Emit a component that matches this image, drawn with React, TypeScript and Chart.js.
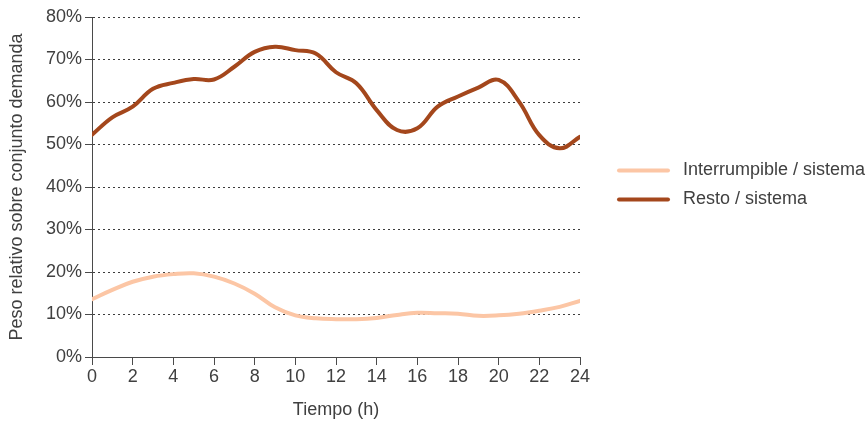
import React, { useEffect, useRef } from "react";
import { Chart, registerables } from "chart.js";

Chart.register(...registerables);

// Hours of the day (x axis)
const hours = [0, 1, 2, 3, 4, 5, 6, 7, 8, 9, 10, 11, 12, 13, 14, 15, 16, 17, 18, 19, 20, 21, 22, 23, 24];

// Relative weight (%) of each demand group over the combined demand
const interrumpible = [13.6, 15.8, 17.7, 18.9, 19.5, 19.7, 18.9, 17.3, 14.9, 11.7, 9.8, 9.1, 8.9, 8.9, 9.2, 9.9, 10.4, 10.3, 10.2, 9.7, 9.8, 10.2, 10.9, 11.8, 13.2];
const resto = [52.3, 56.4, 58.9, 63.1, 64.5, 65.4, 65.3, 68.3, 71.8, 73.0, 72.2, 71.4, 67.0, 64.4, 58.1, 53.4, 53.8, 58.9, 61.3, 63.4, 65.2, 60.1, 52.2, 49.1, 51.8];

const seriesLabels = ["Interrumpible / sistema", "Resto / sistema"];
const seriesColors = ["#FCC6A5", "#A4471C"];

const yTitle = "Peso relativo sobre conjunto demanda";
const xTitle = "Tiempo (h)";

const FONT = "'Liberation Sans', Arial, sans-serif";
const FONT_SIZE = 18;
const TEXT = "#404040";
const AXIS = "#4a4a4a";

// Legend drawn to the right of the plot area
const sideLegend = {
  id: "sideLegend",
  afterDraw(chart: any) {
    const { ctx, chartArea } = chart;
    ctx.save();
    chart.data.datasets.forEach((ds: any, i: number) => {
      const y = chartArea.top + 153.5 + i * 29;
      const x0 = chartArea.right + 39;
      ctx.strokeStyle = ds.borderColor;
      ctx.lineWidth = 4;
      ctx.lineCap = "round";
      ctx.beginPath();
      ctx.moveTo(x0, y);
      ctx.lineTo(x0 + 49, y);
      ctx.stroke();
      ctx.fillStyle = TEXT;
      ctx.font = `${FONT_SIZE}px ${FONT}`;
      ctx.textAlign = "left";
      ctx.textBaseline = "middle";
      ctx.fillText(ds.label, x0 + 64, y);
    });
    ctx.restore();
  },
};

export default function App() {
  const canvasRef = useRef<HTMLCanvasElement | null>(null);

  useEffect(() => {
    const canvas = canvasRef.current;
    if (!canvas) return;
    const series = [interrumpible, resto];
    const chart = new Chart(canvas, {
      type: "line",
      data: {
        datasets: series.map((vals, i) => ({
          label: seriesLabels[i],
          data: hours.map((h, j) => ({ x: h, y: vals[j] })),
          borderColor: seriesColors[i],
          backgroundColor: seriesColors[i],
          borderWidth: 4,
          pointRadius: 0,
          tension: 0.4,
          fill: false,
          borderCapStyle: "round",
        })),
      },
      options: {
        responsive: false,
        animation: false,
        devicePixelRatio: 1,
        layout: { padding: { top: 17, right: 288, bottom: 0, left: 0 } },
        plugins: {
          legend: { display: false },
          tooltip: { enabled: false },
        },
        scales: {
          x: {
            type: "linear",
            min: 0,
            max: 24,
            afterFit(scale: any) {
              scale.height = 64;
            },
            ticks: {
              stepSize: 2,
              color: TEXT,
              padding: 1,
              maxRotation: 0,
              font: { family: FONT, size: FONT_SIZE },
            },
            grid: {
              drawOnChartArea: false,
              drawTicks: true,
              tickLength: 8,
              color: AXIS,
            },
            border: { display: true, color: AXIS, width: 1 },
            title: {
              display: true,
              text: xTitle,
              color: TEXT,
              padding: { top: 0, bottom: 0 },
              font: { family: FONT, size: FONT_SIZE },
            },
          },
          y: {
            min: 0,
            max: 80,
            afterFit(scale: any) {
              scale.width = 92;
            },
            ticks: {
              stepSize: 10,
              color: TEXT,
              padding: 3,
              font: { family: FONT, size: FONT_SIZE },
              callback: (v: any) => `${v}%`,
            },
            grid: {
              drawOnChartArea: true,
              drawTicks: true,
              tickLength: 7,
              color: "#3c3c3c",
              tickColor: AXIS,
              lineWidth: 1,
            },
            border: { display: true, color: AXIS, width: 1, dash: [2, 3] },
            title: {
              display: true,
              text: yTitle,
              color: TEXT,
              padding: { top: 6, bottom: 0 },
              font: { family: FONT, size: FONT_SIZE },
            },
          },
        },
      },
      plugins: [sideLegend],
    } as any);
    return () => chart.destroy();
  }, []);

  return (
    <div style={{ position: "fixed", left: 0, top: 0, width: 868, height: 421, background: "#fff" }}>
      <canvas ref={canvasRef} width={868} height={421} style={{ display: "block" }} />
    </div>
  );
}
